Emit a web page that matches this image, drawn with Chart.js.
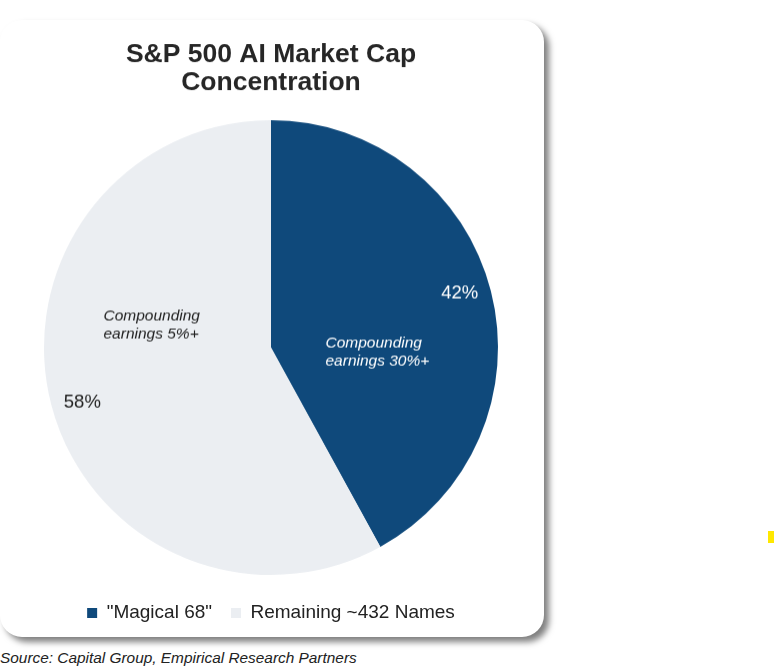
<!DOCTYPE html>
<html><head><meta charset="utf-8">
<script src="https://cdn.jsdelivr.net/npm/chart.js@4"></script>
<style>
html,body{margin:0;padding:0;background:#fff;width:774px;height:672px;overflow:hidden;font-family:"Liberation Sans",Arial,sans-serif;}
#card{position:absolute;left:0;top:20px;width:544px;height:617px;background:#fff;border-radius:22px;box-shadow:5px 5px 6px rgba(0,0,0,0.5);}
#wrap{position:absolute;left:0;top:20px;width:544px;height:611.5px;}
#source{position:absolute;left:0;top:649px;font-style:italic;font-size:15.4px;color:#222;white-space:nowrap;}
#mark{position:absolute;left:768px;top:531px;width:6px;height:12px;background:#FFE800;}
</style></head><body>
<div id="card"></div>
<div id="wrap"><canvas id="c"></canvas></div>
<div id="source">Source: Capital Group, Empirical Research Partners</div>
<div id="mark"></div>
<script>
const categories = ['"Magical 68"', 'Remaining ~432 Names'];
const shares = [42, 58];
const notes = [['Compounding', 'earnings 30%+'], ['Compounding', 'earnings 5%+']];
const titleLines = ['S&P 500 AI Market Cap', 'Concentration'];
const colors = ['#0F497B', '#EBEEF2'];
const labelColors = ['#FFFFFF', '#222222'];

const FONT = '"Liberation Sans", Arial, sans-serif';

const sliceLabels = {
  id: 'sliceLabels',
  afterDatasetsDraw(chart, args, opts) {
    const ctx = chart.ctx;
    const meta = chart.getDatasetMeta(0);
    meta.data.forEach((arc, i) => {
      const p = arc.getProps(['x', 'y', 'startAngle', 'endAngle', 'outerRadius'], true);
      const mid = (p.startAngle + p.endAngle) / 2 + opts.pctAngleShift * Math.PI / 180;
      const r = p.outerRadius * opts.pctRadius;
      ctx.save();
      ctx.fillStyle = labelColors[i];
      ctx.font = '18.5px ' + FONT;
      ctx.textAlign = 'center';
      ctx.textBaseline = 'middle';
      ctx.fillText(shares[i] + '%', p.x + Math.cos(mid) * r, p.y + Math.sin(mid) * r);
      const off = opts.noteOffsets[i];
      const nx = p.x + off[0] * p.outerRadius;
      const ny = p.y + off[1] * p.outerRadius;
      ctx.font = 'italic 15.5px ' + FONT;
      ctx.textAlign = 'left';
      const lh = 18;
      notes[i].forEach((line, k) => {
        ctx.fillText(line, nx, ny + (k - (notes[i].length - 1) / 2) * lh);
      });
      ctx.restore();
    });
  }
};

new Chart(document.getElementById('c'), {
  type: 'pie',
  data: {
    labels: categories,
    datasets: [{
      data: shares,
      backgroundColor: colors,
      borderWidth: 0
    }]
  },
  options: {
    responsive: true,
    maintainAspectRatio: false,
    animation: false,
    layout: { padding: { left: 44, right: 46, top: 0, bottom: 0 } },
    plugins: {
      title: {
        display: true,
        text: titleLines,
        color: '#262626',
        font: { family: FONT, size: 26.5, weight: 'bold', lineHeight: 1.094 },
        padding: { top: 19.7, bottom: 12.8 }
      },
      legend: {
        position: 'bottom',
        labels: {
          boxWidth: 10,
          boxHeight: 10,
          padding: 19,
          color: '#222',
          font: { family: FONT, size: 19 }
        }
      },
      tooltip: { enabled: false },
      sliceLabels: {
        pctRadius: 0.865,
        pctAngleShift: -1.7,
        noteOffsets: [[0.24, 0.02], [-0.738, -0.10]]
      }
    }
  },
  plugins: [sliceLabels]
});
</script>
</body></html>
